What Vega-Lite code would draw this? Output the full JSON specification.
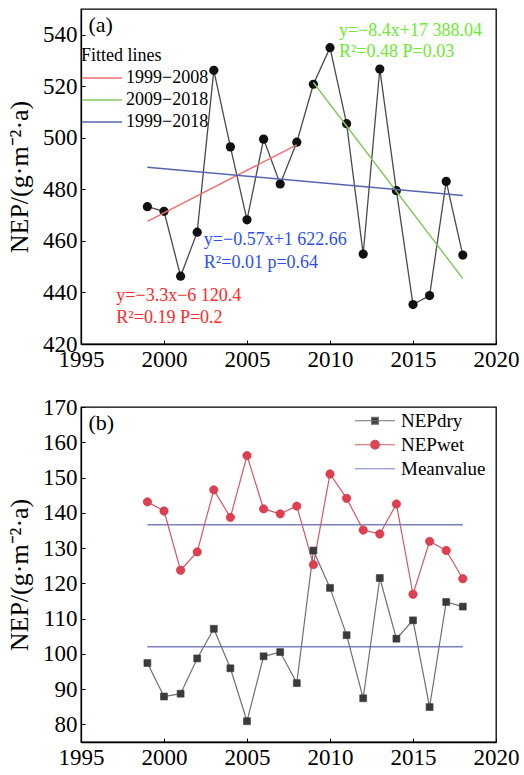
{
  "$schema": "https://vega.github.io/schema/vega-lite/v6.json",
  "background": "white",
  "padding": {"left": 5, "top": 8, "right": 4, "bottom": 4},
  "spacing": 23,
  "config": {
    "font": "Liberation Serif",
    "view": {"stroke": "black", "strokeWidth": 1.3},
    "axis": {
      "labelFont": "Liberation Serif", "labelFontSize": 23, "labelColor": "black",
      "titleFont": "Liberation Serif", "titleFontSize": 26, "titleFontWeight": "normal", "titleColor": "black",
      "titlePadding": 10,
      "domainColor": "black", "domainWidth": 1.3, "tickColor": "black", "tickSize": -4, "tickWidth": 1,
      "labelPadding": 8, "grid": false, "labelFlush": false, "labelOverlap": false
    },
    "legend": {
      "labelFont": "Liberation Serif", "titleFont": "Liberation Serif", "labelColor": "black",
      "titleColor": "black", "titleFontWeight": "normal", "padding": 0
    },
    "text": {"font": "Liberation Serif"}
  },
  "datasets": {
    "nep": [
      {"year": 1999, "value": 473.3}, {"year": 2000, "value": 471.5}, {"year": 2001, "value": 446.3},
      {"year": 2002, "value": 463.4}, {"year": 2003, "value": 526.2}, {"year": 2004, "value": 496.5},
      {"year": 2005, "value": 468.2}, {"year": 2006, "value": 499.5}, {"year": 2007, "value": 482.1},
      {"year": 2008, "value": 498.3}, {"year": 2009, "value": 520.8}, {"year": 2010, "value": 535.0},
      {"year": 2011, "value": 505.5}, {"year": 2012, "value": 454.9}, {"year": 2013, "value": 526.7},
      {"year": 2014, "value": 479.5}, {"year": 2015, "value": 435.3}, {"year": 2016, "value": 438.8},
      {"year": 2017, "value": 483.1}, {"year": 2018, "value": 454.5}
    ],
    "fits": [
      {"period": "1999−2008", "year": 1999, "value": 467.6}, {"period": "1999−2008", "year": 2008, "value": 497.3},
      {"period": "2009−2018", "year": 2009, "value": 521.5}, {"period": "2009−2018", "year": 2018, "value": 445.4},
      {"period": "1999−2018", "year": 1999, "value": 488.6}, {"period": "1999−2018", "year": 2018, "value": 477.6}
    ],
    "annot": [
      {"group": "panel", "year": 1995.45, "value": 543.7, "label": "(a)"},
      {"group": "red", "year": 1997.13, "value": 438.7, "label": "y=−3.3x−6 120.4"},
      {"group": "red", "year": 1997.13, "value": 430.2, "label": "R²=0.19 P=0.2"},
      {"group": "blue", "year": 2002.4, "value": 460.3, "label": "y=−0.57x+1 622.66"},
      {"group": "blue", "year": 2002.4, "value": 451.4, "label": "R²=0.01 p=0.64"},
      {"group": "green", "year": 2010.54, "value": 541.5, "label": "y=−8.4x+17 388.04"},
      {"group": "green", "year": 2010.54, "value": 533.3, "label": "R²=0.48 P=0.03"}
    ],
    "season": [
      {"year": 1999, "series": "NEPdry", "value": 97.4}, {"year": 2000, "series": "NEPdry", "value": 87.9},
      {"year": 2001, "series": "NEPdry", "value": 88.7}, {"year": 2002, "series": "NEPdry", "value": 98.7},
      {"year": 2003, "series": "NEPdry", "value": 107.1}, {"year": 2004, "series": "NEPdry", "value": 95.9},
      {"year": 2005, "series": "NEPdry", "value": 80.9}, {"year": 2006, "series": "NEPdry", "value": 99.3},
      {"year": 2007, "series": "NEPdry", "value": 100.5}, {"year": 2008, "series": "NEPdry", "value": 91.7},
      {"year": 2009, "series": "NEPdry", "value": 129.3}, {"year": 2010, "series": "NEPdry", "value": 118.7},
      {"year": 2011, "series": "NEPdry", "value": 105.3}, {"year": 2012, "series": "NEPdry", "value": 87.4},
      {"year": 2013, "series": "NEPdry", "value": 121.5}, {"year": 2014, "series": "NEPdry", "value": 104.3},
      {"year": 2015, "series": "NEPdry", "value": 109.5}, {"year": 2016, "series": "NEPdry", "value": 84.9},
      {"year": 2017, "series": "NEPdry", "value": 114.7}, {"year": 2018, "series": "NEPdry", "value": 113.4},
      {"year": 1999, "series": "NEPwet", "value": 143.1}, {"year": 2000, "series": "NEPwet", "value": 140.5},
      {"year": 2001, "series": "NEPwet", "value": 123.7}, {"year": 2002, "series": "NEPwet", "value": 128.9},
      {"year": 2003, "series": "NEPwet", "value": 146.5}, {"year": 2004, "series": "NEPwet", "value": 138.7},
      {"year": 2005, "series": "NEPwet", "value": 156.2}, {"year": 2006, "series": "NEPwet", "value": 141.1},
      {"year": 2007, "series": "NEPwet", "value": 139.7}, {"year": 2008, "series": "NEPwet", "value": 141.9},
      {"year": 2009, "series": "NEPwet", "value": 125.3}, {"year": 2010, "series": "NEPwet", "value": 151.0},
      {"year": 2011, "series": "NEPwet", "value": 144.1}, {"year": 2012, "series": "NEPwet", "value": 135.1},
      {"year": 2013, "series": "NEPwet", "value": 134.0}, {"year": 2014, "series": "NEPwet", "value": 142.5},
      {"year": 2015, "series": "NEPwet", "value": 116.9}, {"year": 2016, "series": "NEPwet", "value": 131.9},
      {"year": 2017, "series": "NEPwet", "value": 129.3}, {"year": 2018, "series": "NEPwet", "value": 121.3}
    ],
    "means": [
      {"series": "NEPwet", "year": 1999, "end": 2018, "value": 136.6},
      {"series": "NEPdry", "year": 1999, "end": 2018, "value": 102.0}
    ],
    "annotb": [
      {"year": 1995.45, "value": 165.5, "label": "(b)"}
    ],
    "legendb": [
      {"series": "NEPdry"}, {"series": "NEPwet"}, {"series": "Meanvalue"}
    ]
  },
  "vconcat": [
    {
      "width": 415,
      "height": 335,
      "encoding": {
        "x": {"field": "year", "type": "quantitative",
              "scale": {"domain": [1995, 2020], "nice": false, "zero": false},
              "axis": {"title": null, "values": [1995, 2000, 2005, 2010, 2015, 2020], "format": "d"}},
        "y": {"field": "value", "type": "quantitative",
              "scale": {"domain": [420, 550], "nice": false, "zero": false},
              "axis": {"title": "NEP/(g·m⁻²·a)", "values": [420, 440, 460, 480, 500, 520, 540], "format": "d"}}
      },
      "layer": [
        {"data": {"name": "nep"}, "mark": {"type": "line", "color": "#4a4a4a", "strokeWidth": 1.3}},
        {"data": {"name": "nep"}, "mark": {"type": "point", "filled": true, "color": "#111111", "size": 85, "opacity": 1}},
        {"data": {"name": "fits"}, "mark": {"type": "line", "strokeWidth": 1.5},
         "encoding": {
           "color": {"field": "period", "type": "nominal",
                     "scale": {"domain": ["1999−2008", "2009−2018", "1999−2018"], "range": ["#ef7070", "#88c866", "#5565b0"]},
                     "legend": {"title": "Fitted lines", "orient": "none", "legendX": 0, "legendY": 38,
                                "symbolType": "stroke", "symbolSize": 1600, "symbolStrokeWidth": 1.5,
                                "clipHeight": 22, "rowPadding": 0, "labelFontSize": 18, "titleFontSize": 18,
                                "titlePadding": 2, "labelOffset": 3}}
         }},
        {"data": {"name": "annot"}, "transform": [{"filter": "datum.group === 'panel'"}],
         "mark": {"type": "text", "align": "left", "baseline": "middle", "fontSize": 22, "color": "black"},
         "encoding": {"text": {"field": "label"}}},
        {"data": {"name": "annot"}, "transform": [{"filter": "datum.group === 'red'"}],
         "mark": {"type": "text", "align": "left", "baseline": "middle", "fontSize": 18, "color": "#ff2a2a"},
         "encoding": {"text": {"field": "label"}}},
        {"data": {"name": "annot"}, "transform": [{"filter": "datum.group === 'blue'"}],
         "mark": {"type": "text", "align": "left", "baseline": "middle", "fontSize": 18, "color": "#2f4ff0"},
         "encoding": {"text": {"field": "label"}}},
        {"data": {"name": "annot"}, "transform": [{"filter": "datum.group === 'green'"}],
         "mark": {"type": "text", "align": "left", "baseline": "middle", "fontSize": 18, "color": "#6ee830"},
         "encoding": {"text": {"field": "label"}}}
      ]
    },
    {
      "width": 415,
      "height": 335,
      "encoding": {
        "x": {"field": "year", "type": "quantitative",
              "scale": {"domain": [1995, 2020], "nice": false, "zero": false},
              "axis": {"title": null, "values": [1995, 2000, 2005, 2010, 2015, 2020], "format": "d"}},
        "y": {"field": "value", "type": "quantitative",
              "scale": {"domain": [75, 170], "nice": false, "zero": false},
              "axis": {"title": "NEP/(g·m⁻²·a)", "values": [80, 90, 100, 110, 120, 130, 140, 150, 160, 170], "format": "d"}}
      },
      "layer": [
        {"data": {"name": "means"}, "mark": {"type": "rule", "color": "#7b80c0", "strokeWidth": 1.5},
         "encoding": {"x2": {"field": "end"}}},
        {"data": {"name": "season"}, "transform": [{"filter": "datum.series === 'NEPwet'"}],
         "mark": {"type": "line", "color": "#cf5a66", "strokeWidth": 1.2}},
        {"data": {"name": "season"}, "transform": [{"filter": "datum.series === 'NEPdry'"}],
         "mark": {"type": "line", "color": "#707070", "strokeWidth": 1.2}},
        {"data": {"name": "season"}, "transform": [{"filter": "datum.series === 'NEPwet'"}],
         "mark": {"type": "point", "shape": "circle", "filled": true, "fill": "#df3f50", "stroke": "#c03040", "strokeWidth": 0.6, "size": 70, "opacity": 1}},
        {"data": {"name": "season"}, "transform": [{"filter": "datum.series === 'NEPdry'"}],
         "mark": {"type": "point", "shape": "square", "filled": true, "fill": "#3a3a3a", "stroke": "#3a3a3a", "strokeWidth": 0.6, "size": 48, "opacity": 1}},
        {"data": {"name": "annotb"},
         "mark": {"type": "text", "align": "left", "baseline": "middle", "fontSize": 22, "color": "black"},
         "encoding": {"text": {"field": "label"}}},
        {"data": {"name": "legendb"},
         "mark": {"type": "point", "filled": true},
         "encoding": {
           "shape": {"field": "series", "type": "nominal",
                     "scale": {"domain": ["NEPdry", "NEPwet", "Meanvalue"],
                               "range": ["M-1,0H1M-0.17,-0.17H0.17V0.17H-0.17Z", "M-1,0H1M0.22,0A0.22,0.22,0,1,1,-0.22,0A0.22,0.22,0,1,1,0.22,0Z", "M-1,0H1"]},
                     "legend": {"title": null, "orient": "none", "legendX": 273, "legendY": 400, "symbolSize": 1600,
                                "symbolStrokeWidth": 1.2, "clipHeight": 23.5, "rowPadding": 0, "labelFontSize": 19,
                                "labelOffset": 5, "symbolOpacity": 1}},
           "fill": {"field": "series", "type": "nominal",
                    "scale": {"domain": ["NEPdry", "NEPwet", "Meanvalue"], "range": ["#3a3a3a", "#df3f50", "transparent"]},
                    "legend": {"title": null, "orient": "none", "legendX": 273, "legendY": 400, "symbolSize": 1600,
                               "symbolStrokeWidth": 1.2, "clipHeight": 23.5, "rowPadding": 0, "labelFontSize": 19,
                               "labelOffset": 5, "symbolOpacity": 1}},
           "stroke": {"field": "series", "type": "nominal",
                      "scale": {"domain": ["NEPdry", "NEPwet", "Meanvalue"], "range": ["#707070", "#cf5a66", "#7b80c0"]},
                      "legend": {"title": null, "orient": "none", "legendX": 273, "legendY": 400, "symbolSize": 1600,
                                 "symbolStrokeWidth": 1.2, "clipHeight": 23.5, "rowPadding": 0, "labelFontSize": 19,
                                 "labelOffset": 5, "symbolOpacity": 1}}
         }}
      ]
    }
  ]
}
